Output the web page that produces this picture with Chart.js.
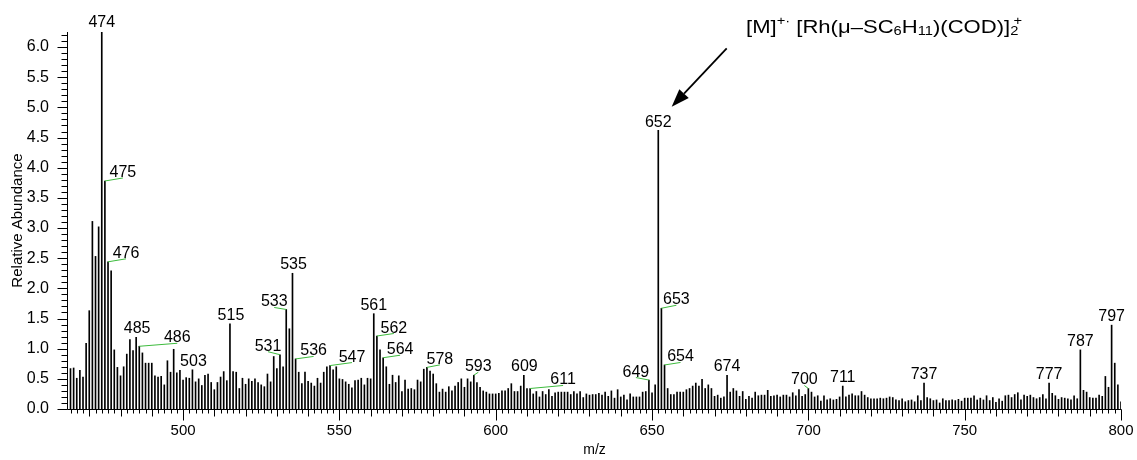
<!DOCTYPE html>
<html>
<head>
<meta charset="utf-8">
<script src="https://cdn.jsdelivr.net/npm/chart.js@4.4.1/dist/chart.umd.min.js"></script>
<style>
html,body{margin:0;padding:0;background:#fff;}
#wrap{width:1137px;height:460px;position:relative;}
</style>
</head>
<body>
<div id="wrap"><canvas id="c" width="1137" height="460"></canvas></div>
<script>
// ---------------- DATA ----------------
// m/z of the first stick; sticks are at every integer m/z from here to 800
const mzStart = 464;
// Relative abundance, m/z 464 - 499
const abund464to499 = [0.67,0.68,0.51,0.64,0.53,1.09,1.63,3.11,2.53,3.02,6.25,3.78,2.44,2.29,0.98,0.69,0.55,0.70,0.91,1.15,0.97,1.19,1.04,0.93,0.76,0.76,0.76,0.55,0.53,0.54,0.40,0.80,0.61,0.99,0.60,0.64];
// m/z 500 - 549
const abund500to549 = [0.48,0.52,0.51,0.65,0.45,0.50,0.39,0.56,0.58,0.44,0.32,0.44,0.53,0.62,0.47,1.41,0.62,0.61,0.34,0.51,0.41,0.50,0.46,0.50,0.44,0.40,0.37,0.58,0.45,0.87,0.67,0.90,0.70,1.65,1.33,2.25,0.83,0.61,0.42,0.61,0.46,0.43,0.38,0.51,0.43,0.61,0.70,0.72,0.65,0.70];
// m/z 550 - 599
const abund550to599 = [0.50,0.49,0.45,0.41,0.35,0.47,0.48,0.51,0.40,0.51,0.50,1.58,1.21,0.98,0.85,0.70,0.41,0.56,0.44,0.55,0.29,0.48,0.33,0.34,0.32,0.48,0.45,0.66,0.69,0.63,0.58,0.42,0.28,0.33,0.28,0.37,0.30,0.38,0.44,0.50,0.36,0.50,0.45,0.56,0.44,0.36,0.30,0.28,0.25,0.25];
// m/z 600 - 649
const abund600to649 = [0.25,0.26,0.30,0.30,0.34,0.42,0.29,0.29,0.38,0.56,0.34,0.34,0.25,0.29,0.20,0.29,0.24,0.32,0.21,0.27,0.28,0.28,0.28,0.28,0.24,0.29,0.25,0.29,0.19,0.25,0.23,0.24,0.24,0.26,0.23,0.28,0.21,0.30,0.18,0.32,0.20,0.23,0.15,0.25,0.20,0.20,0.20,0.28,0.29,0.48];
// m/z 650 - 699
const abund650to699 = [0.27,0.40,4.62,1.67,0.73,0.34,0.24,0.24,0.28,0.28,0.28,0.32,0.34,0.38,0.43,0.38,0.49,0.34,0.40,0.34,0.21,0.23,0.18,0.20,0.56,0.28,0.34,0.30,0.21,0.29,0.16,0.21,0.18,0.28,0.22,0.23,0.23,0.31,0.21,0.22,0.23,0.20,0.23,0.23,0.20,0.27,0.22,0.32,0.21,0.24];
// m/z 700 - 749
const abund700to749 = [0.34,0.28,0.20,0.22,0.13,0.22,0.15,0.17,0.15,0.16,0.20,0.38,0.20,0.23,0.25,0.22,0.22,0.29,0.23,0.19,0.17,0.17,0.17,0.18,0.17,0.18,0.20,0.19,0.15,0.14,0.17,0.12,0.14,0.15,0.12,0.22,0.14,0.43,0.19,0.17,0.14,0.15,0.10,0.17,0.14,0.14,0.15,0.14,0.16,0.13];
// m/z 750 - 800
const abund750to800 = [0.18,0.18,0.18,0.22,0.15,0.18,0.15,0.22,0.14,0.19,0.11,0.17,0.13,0.22,0.23,0.19,0.24,0.27,0.15,0.23,0.21,0.23,0.19,0.17,0.19,0.24,0.17,0.43,0.26,0.22,0.16,0.19,0.18,0.17,0.15,0.22,0.17,0.98,0.31,0.28,0.19,0.18,0.18,0.23,0.21,0.54,0.36,1.39,0.76,0.40,0.12];

// labelled peaks (m/z)
const labelledPeaks = [474,475,476,485,486,503,515,531,533,535,536,547,561,562,564,578,593,609,611,649,652,653,654,674,700,711,737,777,787,797];
// axis tick labels
const xTickLabels = [500,550,600,650,700,750,800];
const yTickLabels = [0,0.5,1,1.5,2,2.5,3,3.5,4,4.5,5,5.5,6];
const xTitle = 'm/z';
const yTitle = 'Relative Abundance';

// ---------------- BUILD ----------------
const abundance = [].concat(abund464to499, abund500to549, abund550to599, abund600to649, abund650to699, abund700to749, abund750to800);
const points = abundance.map((v, i) => ({ x: mzStart + i, y: v }));
const valueAt = mz => abundance[mz - mzStart];

const FONT = "'Liberation Sans', Arial, Helvetica, sans-serif";

// label placement: [dx, dy, leader line]
const labelPlacement = {
  474:[0,-5,false],475:[18,-3,true],476:[18,-3,true],485:[1,-4,false],486:[38,-3,true],
  503:[1,-4,false],515:[1,-4,false],531:[-12,-3,true],533:[-12,-2,true],535:[1,-4,false],
  536:[18,-2.5,true],547:[22,-3,true],561:[0,-3.5,false],562:[17,-2.5,true],564:[17,-2.5,true],
  578:[13,-2.5,true],593:[4.5,-3,true],609:[0.5,-4,false],611:[33,-3,true],649:[-13,-2.5,true],
  652:[0,-3.5,false],653:[15,-3,true],654:[16,-2.5,true],674:[0,-4,false],700:[-4,-3,true],
  711:[0,-4,false],737:[0,-4,false],777:[0,-4,false],787:[0,-4,false],797:[0,-4,false]
};

const axisPlugin = {
  id: 'msAxes',
  afterDatasetsDraw(chart) {
    const ctx = chart.ctx, xs = chart.scales.x, ys = chart.scales.y, ca = chart.chartArea;
    ctx.save();
    ctx.strokeStyle = '#000';
    ctx.lineWidth = 1;
    const ax = Math.round(ca.left) - 0.5;
    const ay = Math.round(ca.bottom) + 0.5;
    ctx.beginPath();
    ctx.moveTo(ax, Math.round(ca.top));
    ctx.lineTo(ax, ay);
    ctx.lineTo(Math.round(ca.right) + 0.5, ay);
    // y ticks every 0.1, long every 0.5
    for (let k = 0; k <= 62; k++) {
      const py = Math.round(ys.getPixelForValue(k / 10)) + 0.5;
      const len = (k % 5 === 0) ? 10 : 6;
      ctx.moveTo(ax - len, py);
      ctx.lineTo(ax, py);
    }
    // x ticks every 2, longer every 10, longest every 50
    for (let m = 464; m <= 800; m += 2) {
      const px = Math.round(xs.getPixelForValue(m)) + 0.5;
      const len = (m % 50 === 0) ? 11 : (m % 10 === 0 ? 7 : 4);
      ctx.moveTo(px, ay);
      ctx.lineTo(px, ay + len);
    }
    ctx.stroke();
    ctx.restore();
  }
};

const labelPlugin = {
  id: 'peakLabels',
  afterDatasetsDraw(chart) {
    const ctx = chart.ctx, xs = chart.scales.x, ys = chart.scales.y;
    ctx.save();
    ctx.font = '16px ' + FONT;
    ctx.textAlign = 'center';
    ctx.textBaseline = 'alphabetic';
    labelledPeaks.forEach(p => {
      const bx = xs.getPixelForValue(p);
      const by = ys.getPixelForValue(valueAt(p));
      const pl = labelPlacement[p] || [0, -4, false];
      const lx = bx + pl[0], ly = by + pl[1];
      if (pl[2]) {
        ctx.strokeStyle = '#3dbb3d';
        ctx.lineWidth = 1;
        ctx.beginPath();
        ctx.moveTo(bx, by);
        ctx.lineTo(lx, ly);
        ctx.stroke();
        ctx.fillStyle = '#000';
        ctx.fillText(String(p), lx, ly - 1);
      } else {
        ctx.fillStyle = '#000';
        ctx.fillText(String(p), lx, ly);
      }
    });

    // annotation: molecular ion
    const pieces = [
      {t:'[M]', k:'n'}, {t:'+\u00B7', k:'sup'}, {t:' [Rh(\u03BC\u2013SC', k:'n'}, {t:'6', k:'sub'},
      {t:'H', k:'n'}, {t:'11', k:'sub'}, {t:')(COD)]', k:'n'}, {t:'2', k:'sub'}, {t:'+', k:'sup', back:4}
    ];
    const sizes = {n:18, sub:12, sup:12};
    const shifts = {n:0, sub:1.5, sup:-8};
    let total = 0;
    const widths = pieces.map(pc => {
      ctx.font = sizes[pc.k] + 'px ' + FONT;
      return ctx.measureText(pc.t).width;
    });
    pieces.forEach((pc, i) => { total += widths[i] - (pc.back || 0); });
    const sx = 276 / total;
    ctx.save();
    ctx.translate(746, 33);
    ctx.scale(sx, 1);
    ctx.textAlign = 'left';
    ctx.fillStyle = '#000';
    let cx = 0;
    pieces.forEach((pc, i) => {
      ctx.font = sizes[pc.k] + 'px ' + FONT;
      cx -= (pc.back || 0);
      ctx.fillText(pc.t, cx, shifts[pc.k]);
      cx += widths[i];
    });
    ctx.restore();

    // arrow
    const x0 = 726.7, y0 = 48.3, x1 = 671.7, y1 = 106.7;
    const ang = Math.atan2(y1 - y0, x1 - x0);
    const hl = 18, hw = 6.5;
    const bxh = x1 - hl * Math.cos(ang), byh = y1 - hl * Math.sin(ang);
    ctx.strokeStyle = '#000';
    ctx.lineWidth = 1.8;
    ctx.beginPath();
    ctx.moveTo(x0, y0);
    ctx.lineTo(bxh, byh);
    ctx.stroke();
    ctx.fillStyle = '#000';
    ctx.beginPath();
    ctx.moveTo(x1, y1);
    ctx.lineTo(bxh + hw * Math.sin(ang), byh - hw * Math.cos(ang));
    ctx.lineTo(bxh - hw * Math.sin(ang), byh + hw * Math.cos(ang));
    ctx.closePath();
    ctx.fill();
    ctx.restore();
  }
};

new Chart(document.getElementById('c'), {
  type: 'bar',
  data: {
    datasets: [{
      label: 'Relative Abundance',
      data: points,
      backgroundColor: '#000',
      borderWidth: 0,
      barThickness: 1
    }]
  },
  options: {
    responsive: false,
    animation: false,
    devicePixelRatio: 1,
    layout: { padding: { left: 0, right: 16, top: 32, bottom: 0 } },
    plugins: { legend: { display: false }, tooltip: { enabled: false } },
    scales: {
      x: {
        type: 'linear',
        min: 463.2,
        max: 800,
        offset: false,
        grid: { display: true, drawOnChartArea: false, drawTicks: true, tickLength: 12, color: 'rgba(0,0,0,0)' },
        border: { display: false },
        afterBuildTicks: s => { s.ticks = xTickLabels.map(v => ({ value: v })); },
        afterFit: s => { s.height = 51; },
        ticks: {
          font: { family: FONT, size: 15 },
          color: '#000',
          padding: 1,
          maxRotation: 0,
          autoSkip: false,
          callback: v => String(v)
        },
        title: {
          display: true,
          text: xTitle,
          font: { family: FONT, size: 14 },
          color: '#000',
          padding: { top: 0, bottom: 1 }
        }
      },
      y: {
        min: 0,
        max: 6.25,
        grid: { display: false },
        border: { display: false },
        afterBuildTicks: s => { s.ticks = yTickLabels.map(v => ({ value: v })); },
        afterFit: s => { s.width = 68; },
        ticks: {
          font: { family: FONT, size: 16 },
          color: '#000',
          padding: 11,
          callback: v => Number(v).toFixed(1)
        },
        title: {
          display: true,
          text: yTitle,
          font: { family: FONT, size: 15 },
          color: '#000',
          padding: { top: 9, bottom: 0 }
        }
      }
    }
  },
  plugins: [axisPlugin, labelPlugin]
});
</script>
</body>
</html>
